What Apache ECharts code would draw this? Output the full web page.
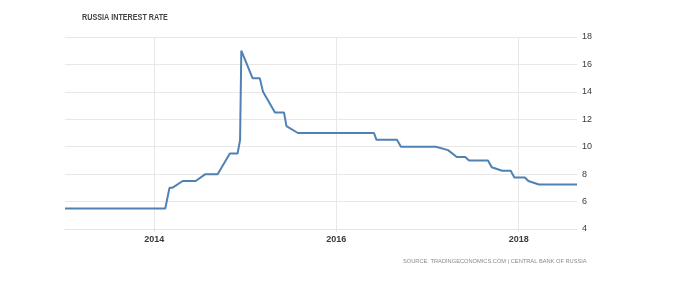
<!DOCTYPE html>
<html><head><meta charset="utf-8">
<script src="https://cdn.jsdelivr.net/npm/echarts@6/dist/echarts.min.js"></script>
<style>html,body{margin:0;padding:0;background:#fff}#c{width:680px;height:295px}</style>
</head><body><div id="c"></div>
<script>
const titleText = 'RUSSIA INTEREST RATE';
const sourceText = 'SOURCE: TRADINGECONOMICS.COM | CENTRAL BANK OF RUSSIA';
const dates = [
  '2013-01-08','2013-09-13','2013-12-13','2014-02-14','2014-03-03','2014-03-14','2014-04-25',
  '2014-06-16','2014-07-25','2014-09-12','2014-10-31','2014-12-01','2014-12-11','2014-12-16',
  '2015-01-30','2015-02-28','2015-03-13','2015-04-30','2015-06-05','2015-06-15','2015-07-31',
  '2015-09-11','2015-10-30','2015-12-11','2016-01-29','2016-03-18','2016-04-29','2016-05-31',
  '2016-06-10','2016-07-29','2016-08-31','2016-09-16','2016-10-28','2016-12-16','2017-02-03',
  '2017-03-24','2017-04-28','2017-06-01','2017-06-16','2017-07-28','2017-08-31','2017-09-15',
  '2017-10-27','2017-11-30','2017-12-15','2018-01-26','2018-02-09','2018-03-23','2018-04-27',
  '2018-06-15','2018-07-27','2018-08-23'
];
const rates = [
  5.5,5.5,5.5,5.5,7.0,7.0,7.5,
  7.5,8.0,8.0,9.5,9.5,10.5,17.0,
  15.0,15.0,14.0,12.5,12.5,11.5,11.0,
  11.0,11.0,11.0,11.0,11.0,11.0,11.0,
  10.5,10.5,10.5,10.0,10.0,10.0,10.0,
  9.75,9.25,9.25,9.0,9.0,9.0,8.5,
  8.25,8.25,7.75,7.75,7.5,7.25,7.25,
  7.25,7.25,7.25
];
const yearTicks = [2014, 2016, 2018];
const xStart = '2013-01-08';
const xEnd = '2018-08-23';
const yMin = 4, yMax = 18, yStep = 2;

function ts(s){ const p = s.split('-').map(Number); return Date.UTC(p[0], p[1]-1, p[2]); }
const tickVals = yearTicks.map(y => Date.UTC(y, 0, 1));
const seriesData = dates.map((d, i) => [ts(d), rates[i]]);

const chart = echarts.init(document.getElementById('c'), null, {renderer: 'canvas'});
chart.setOption({
  animation: false,
  backgroundColor: '#fff',
  grid: {left: 65, right: 103, top: 37, bottom: 66},
  graphic: [
    {type: 'text', left: 82, top: 13, scaleX: 0.8,
     style: {text: titleText, fill: '#444', font: 'bold 9px "Liberation Sans", Arial, sans-serif'}},
    {type: 'text', left: 403, top: 258, scaleX: 0.92,
     style: {text: sourceText, fill: '#8a8a8a', font: '6.2px "Liberation Sans", Arial, sans-serif'}}
  ],
  xAxis: {
    type: 'value',
    min: ts(xStart), max: ts(xEnd),
    axisLine: {show: true, lineStyle: {color: '#e4e4e4', width: 1}},
    axisTick: {show: true, length: 3, lineStyle: {color: '#e4e4e4'}, customValues: tickVals},
    axisLabel: {customValues: tickVals, color: '#3a3a3a', fontWeight: 'bold', fontSize: 9,
      fontFamily: '"Liberation Sans", Arial, sans-serif', margin: 6,
      formatter: v => String(new Date(v).getUTCFullYear())},
    splitLine: {show: true, lineStyle: {color: '#e8e8e8', width: 1}}
  },
  yAxis: {
    type: 'value', position: 'right', min: yMin, max: yMax, interval: yStep,
    axisLine: {show: false}, axisTick: {show: false},
    axisLabel: {color: '#3a3a3a', fontSize: 9, margin: 5, fontFamily: '"Liberation Sans", Arial, sans-serif'},
    splitLine: {show: true, lineStyle: {color: '#e8e8e8', width: 1}}
  },
  series: [{
    type: 'line', data: seriesData, showSymbol: false, symbol: 'none',
    lineStyle: {color: '#4f82b3', width: 2}, itemStyle: {color: '#4f82b3'}
  }]
});
</script></body></html>
